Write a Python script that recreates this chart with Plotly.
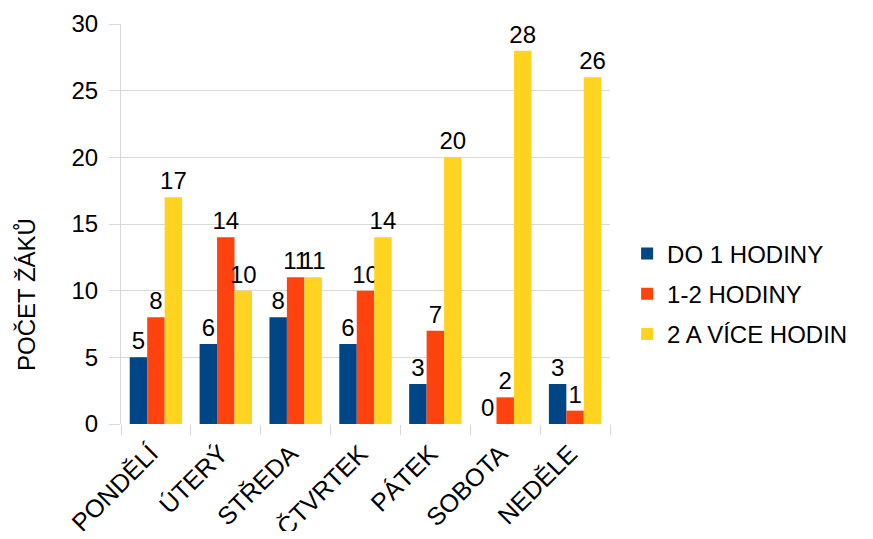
import plotly.graph_objects as go

days = ["PONDĚLÍ", "ÚTERÝ", "STŘEDA", "ČTVRTEK", "PÁTEK", "SOBOTA", "NEDĚLE"]
do1 = [5, 6, 8, 6, 3, 0, 3]
h12 = [8, 14, 11, 10, 7, 2, 1]
h2plus = [17, 10, 11, 14, 20, 28, 26]
series_names = ["DO 1 HODINY", "1-2 HODINY", "2 A VÍCE HODIN"]
colors = ["#004586", "#ff420e", "#ffd320"]
y_ticks = [0, 5, 10, 15, 20, 25, 30]

FONT = "Liberation Sans, Arial, sans-serif"
FS = 24

fig = go.Figure()
for i, (name, vals, col) in enumerate(zip(series_names, [do1, h12, h2plus], colors)):
    fig.add_trace(go.Bar(
        x=days, y=vals, name=name, legendgroup=f"g{i}",
        marker=dict(color=col, line=dict(width=0)),
        text=[str(v) for v in vals], textposition="outside",
        constraintext="none",
        textfont=dict(family=FONT, size=FS, color="black"),
        cliponaxis=False,
    ))

# page body has an 8px margin; shrink figure so plot area lands where the reference has it
fig.update_layout(
    width=857, height=523,
    margin=dict(l=113, r=250, t=16, b=107),
    paper_bgcolor="white", plot_bgcolor="white",
    barmode="group", bargap=0.25, bargroupgap=0,
    font=dict(family=FONT, size=FS, color="black"),
    showlegend=True,
    legend=dict(x=1.035, y=0.325, xanchor="left", yanchor="middle",
                font=dict(family=FONT, size=FS, color="black"),
                itemwidth=30, tracegroupgap=6),
)
fig.update_xaxes(
    type="category", showgrid=False, showline=False,
    ticks="outside", tickson="boundaries", ticklen=10, tickcolor="#d9d9d9",
    tickangle=-45, tickfont=dict(family=FONT, size=25, color="black"),
    ticklabelshift=-5, ticklabelstandoff=9,
    zeroline=False, automargin=False,
)
fig.update_yaxes(
    range=[0, 30], tickvals=y_ticks, showgrid=True, gridcolor="#d9d9d9",
    showline=True, linecolor="#d9d9d9", ticks="outside", ticklen=11,
    tickcolor="#d9d9d9", tickfont=dict(family=FONT, size=FS, color="black"),
    ticklabelstandoff=6,
    zeroline=False, automargin=False,
)
fig.add_annotation(
    text="POČET ŽÁKŮ", textangle=-90, xref="paper", yref="paper",
    x=(25 - 121) / 494, y=(424 - 294) / 400, showarrow=False,
    xanchor="center", yanchor="middle",
    font=dict(family=FONT, size=FS, color="black"),
)
fig.write_html("out.html")
